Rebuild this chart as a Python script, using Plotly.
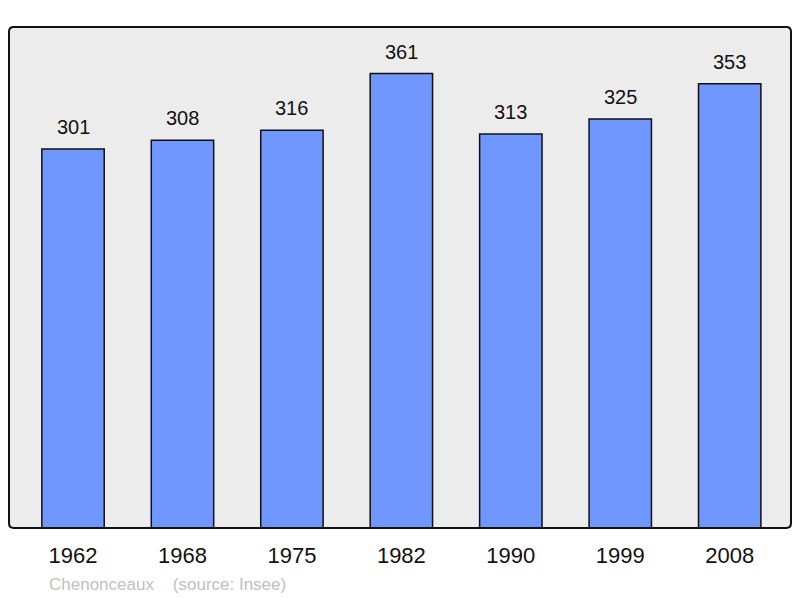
import plotly.graph_objects as go

years = ['1962', '1968', '1975', '1982', '1990', '1999', '2008']
population = [301, 308, 316, 361, 313, 325, 353]
caption = 'Chenonceaux    (source: Insee)'

fig = go.Figure()
fig.add_trace(go.Bar(x=years, y=population, width=0.57,
                     marker=dict(color='#7096ff', line=dict(color='#111111', width=1.5)),
                     hoverinfo='skip'))

# value labels above the bars (category axis -> use index for x)
for i, val in enumerate(population):
    fig.add_annotation(x=i, y=val, text=str(val), showarrow=False,
                       yanchor='bottom', yshift=9,
                       font=dict(family='Liberation Sans, Arial', size=20, color='#111111'))

# rounded frame round the plot area
r = 0.006
fig.add_shape(type='path', xref='paper', yref='paper',
              path=(f'M {r},0 L {1-r},0 Q 1,0 1,{r*1.56} L 1,{1-r*1.56} Q 1,1 {1-r},1 '
                    f'L {r},1 Q 0,1 0,{1-r*1.56} L 0,{r*1.56} Q 0,0 {r},0 Z'),
              line=dict(color='#111111', width=2), layer='above')

# caption under the axis, page pixels converted to paper coords
fig.add_annotation(x=(47 - 9) / 782, y=-(584 - 528) / 501, xref='paper', yref='paper',
                   text=caption, showarrow=False, xanchor='left', yanchor='middle',
                   font=dict(family='Liberation Sans, Arial', size=17, color='#c0c0c0'))

fig.update_layout(
    width=800, height=598,
    margin=dict(l=9, r=9, t=27, b=70),
    paper_bgcolor='white', plot_bgcolor='#ececec',
    showlegend=False,
    xaxis=dict(type='category', range=[-0.585, 6.56], showgrid=False, zeroline=False,
               showline=False, ticks='', ticklabelstandoff=12,
               tickfont=dict(family='Liberation Sans, Arial', size=22, color='#111111')),
    yaxis=dict(range=[0, 398], visible=False),
)

# drop the browser's default body margin so the figure sits at (0, 0)
fig.write_html('out.html', config={'displayModeBar': False},
               post_script="document.body.style.margin='0';")
